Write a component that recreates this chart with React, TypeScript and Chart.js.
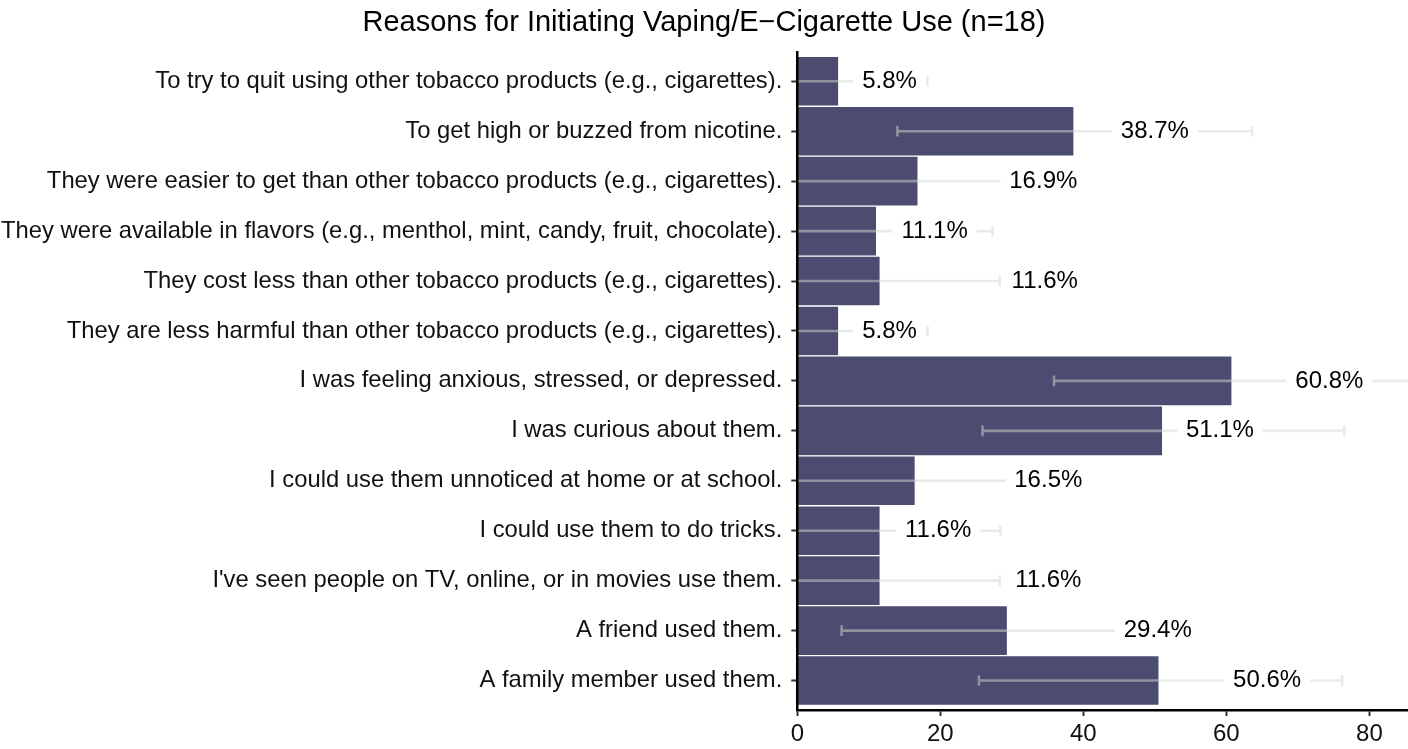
import React, { useEffect, useRef } from "react";
import { Chart, registerables } from "chart.js";

Chart.register(...registerables);

const categories = [
  "To try to quit using other tobacco products (e.g., cigarettes).",
  "To get high or buzzed from nicotine.",
  "They were easier to get than other tobacco products (e.g., cigarettes).",
  "They were available in flavors (e.g., menthol, mint, candy, fruit, chocolate).",
  "They cost less than other tobacco products (e.g., cigarettes).",
  "They are less harmful than other tobacco products (e.g., cigarettes).",
  "I was feeling anxious, stressed, or depressed.",
  "I was curious about them.",
  "I could use them unnoticed at home or at school.",
  "I could use them to do tricks.",
  "I've seen people on TV, online, or in movies use them.",
  "A friend used them.",
  "A family member used them.",
];

const percentValues = [5.8, 38.7, 16.9, 11.1, 11.6, 5.8, 60.8, 51.1, 16.5, 11.6, 11.6, 29.4, 50.6];
const ciLower = [-6.6, 14.0, -1.5, -5.1, -5.1, -6.6, 35.9, 25.9, -1.5, -5.2, -5.1, 6.2, 25.4];
const ciUpper = [18.2, 63.6, 35.0, 27.3, 28.3, 18.2, 85.7, 76.5, 34.5, 28.4, 28.3, 52.6, 76.2];
const labelPositions = [12.9, 50.0, 34.4, 19.2, 34.6, 12.9, 74.4, 59.1, 35.1, 19.7, 35.1, 50.4, 65.7];
const xTickValues = [0, 20, 40, 60, 80];
const titleText = "Reasons for Initiating Vaping/E\u2212Cigarette Use (n=18)";

const FONT = '"Liberation Sans", Arial, Helvetica, sans-serif';

export default function App() {
  const ref = useRef<HTMLCanvasElement>(null);

  useEffect(() => {
    document.body.style.margin = "0";
    if (!ref.current) return;

    const errorBarPlugin = {
      id: "errorBarsAndLabels",
      afterDatasetsDraw(chart: any) {
        const { ctx, chartArea, scales } = chart;
        const xs = scales.x;
        const ys = scales.y;
        ctx.save();
        ctx.beginPath();
        ctx.rect(chartArea.left, chartArea.top, chartArea.right - chartArea.left, chartArea.bottom - chartArea.top);
        ctx.clip();
        ctx.strokeStyle = "rgba(212,217,206,0.5)";
        ctx.lineWidth = 2.6;
        ctx.lineCap = "butt";
        categories.forEach((_, i) => {
          const y = ys.getPixelForValue(i);
          const x0 = xs.getPixelForValue(ciLower[i]);
          const x1 = xs.getPixelForValue(ciUpper[i]);
          ctx.beginPath();
          ctx.moveTo(x0, y);
          ctx.lineTo(x1, y);
          ctx.moveTo(x0, y - 5.3);
          ctx.lineTo(x0, y + 5.3);
          ctx.moveTo(x1, y - 5.3);
          ctx.lineTo(x1, y + 5.3);
          ctx.stroke();
        });
        ctx.restore();

        ctx.save();
        ctx.font = `24px ${FONT}`;
        ctx.textAlign = "center";
        ctx.textBaseline = "middle";
        categories.forEach((_, i) => {
          const text = `${percentValues[i].toFixed(1)}%`;
          const cx = xs.getPixelForValue(labelPositions[i]);
          const cy = ys.getPixelForValue(i);
          const w = ctx.measureText(text).width;
          ctx.fillStyle = "#ffffff";
          ctx.fillRect(cx - w / 2 - 9, cy - 15, w + 18, 30);
          ctx.fillStyle = "#000000";
          ctx.fillText(text, cx, cy);
        });
        ctx.restore();
      },
    };

    const chart = new Chart(ref.current, {
      type: "bar",
      data: {
        datasets: [
          {
            data: percentValues.map((v, i) => ({ x: v, y: i })),
            backgroundColor: "#4b4c70",
            borderColor: "#ffffff",
            borderWidth: 1,
            categoryPercentage: 1,
            barPercentage: 1,
          },
        ],
      },
      options: {
        indexAxis: "y",
        responsive: false,
        animation: false,
        layout: { padding: 0 },
        plugins: {
          legend: { display: false },
          tooltip: { enabled: false },
          title: {
            display: true,
            text: titleText,
            font: { family: FONT, size: 29, weight: "normal" },
            color: "#000000",
            padding: { top: 6, bottom: 11 },
          },
        },
        scales: {
          x: {
            type: "linear",
            min: 0,
            max: 85.4,
            offset: false,
            afterBuildTicks: (s: any) => {
              s.ticks = xTickValues.map((v) => ({ value: v }));
            },
            afterFit: (s: any) => {
              s.height = 39;
            },
            grid: {
              display: true,
              offset: false,
              drawOnChartArea: false,
              drawTicks: true,
              tickLength: 6,
              tickColor: "#333333",
              tickWidth: 2,
            },
            border: { display: true, color: "#000000", width: 2.5, z: 1 },
            ticks: {
              font: { family: FONT, size: 24 },
              color: "#111111",
              padding: 4,
              maxRotation: 0,
              autoSkip: false,
            },
          },
          y: {
            type: "linear",
            reverse: true,
            offset: false,
            min: -0.59,
            max: 12.59,
            afterBuildTicks: (s: any) => {
              s.ticks = categories.map((_, i) => ({ value: i }));
            },
            afterFit: (s: any) => {
              s.width = 797.3;
            },
            grid: {
              display: true,
              offset: false,
              drawOnChartArea: false,
              drawTicks: true,
              tickLength: 6,
              tickColor: "#333333",
              tickWidth: 2,
            },
            border: { display: true, color: "#000000", width: 2.5, z: 1 },
            ticks: {
              font: { family: FONT, size: 23.8 },
              color: "#111111",
              padding: 9,
              autoSkip: false,
              callback: (v: any) => categories[Math.round(Number(v))] ?? "",
            },
          },
        },
      },
      plugins: [errorBarPlugin],
    } as any);

    return () => chart.destroy();
  }, []);

  return (
    <div style={{ width: 1408, height: 749 }}>
      <canvas ref={ref} width={1408} height={749} style={{ display: "block" }} />
    </div>
  );
}
